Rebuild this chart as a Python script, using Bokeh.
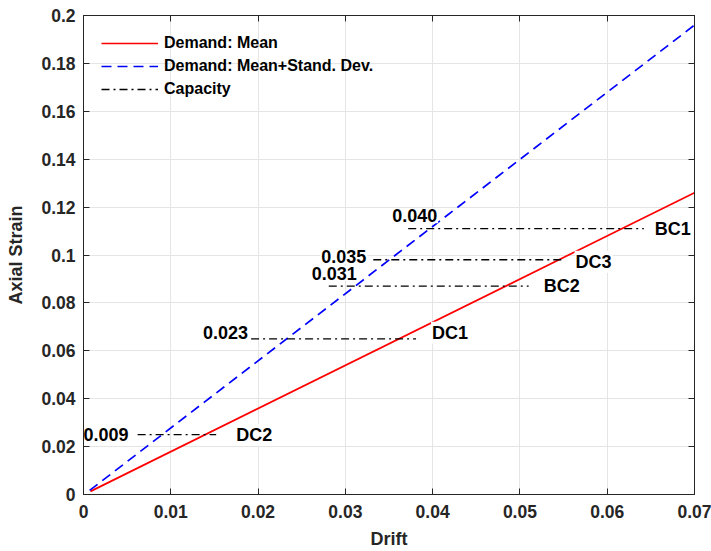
from bokeh.plotting import figure
from bokeh.models import (Range1d, FixedTicker, LinearAxis, Legend, LegendItem,
                          ColumnDataSource, CustomJSTickFormatter)
from bokeh.core.properties import value
from bokeh.embed import file_html
from bokeh.resources import INLINE

# ---- data ----
mean_x = [0.0008, 0.07]
mean_y = [0.0013, 0.126]
msd_x = [0.0007, 0.07]
msd_y = [0.0017, 0.196]

cap_names = ["DC2", "DC1", "BC2", "DC3", "BC1"]
cap_values = ["0.009", "0.023", "0.031", "0.035", "0.040"]
cap_level = [0.025, 0.065, 0.087, 0.098, 0.111]
cap_start = [0.0062, 0.0192, 0.0281, 0.0332, 0.0372]
cap_end = [0.0152, 0.0381, 0.0510, 0.0550, 0.0642]

x_ticks = [0, 0.01, 0.02, 0.03, 0.04, 0.05, 0.06, 0.07]
y_ticks = [0, 0.02, 0.04, 0.06, 0.08, 0.1, 0.12, 0.14, 0.16, 0.18, 0.2]

# label placement (pixel offsets, screen units)
val_dx = [-8, -2, 29, -6, 30]
val_dy = [0, -6, -13, -3, -13]
name_dx = [19, 15, 14, 11, 10]
name_dy = [0, -6, 0, 2, 0]

FONT = "Liberation Sans"
AX = "#262626"

p = figure(width=711, height=551, output_backend="svg", toolbar_location=None,
           x_range=Range1d(0, 0.07), y_range=Range1d(0, 0.2),
           min_border_left=83, min_border_right=17, min_border_top=15,
           min_border_bottom=56, background_fill_color="white",
           border_fill_color="white", outline_line_color=AX)

fmt = CustomJSTickFormatter(code="return String(parseFloat(tick.toFixed(3)));")
blank = CustomJSTickFormatter(code="return '';")

p.xaxis.ticker = FixedTicker(ticks=x_ticks)
p.yaxis.ticker = FixedTicker(ticks=y_ticks)
p.xgrid.ticker = FixedTicker(ticks=x_ticks)
p.ygrid.ticker = FixedTicker(ticks=y_ticks)
p.grid.grid_line_color = "#e5e5e5"
p.grid.grid_line_width = 1

for ax in (p.xaxis[0], p.yaxis[0]):
    ax.formatter = fmt
    ax.major_tick_in = 6
    ax.major_tick_out = 0
    ax.minor_tick_line_color = None
    ax.axis_line_color = AX
    ax.major_tick_line_color = AX
    ax.major_label_text_font = FONT
    ax.major_label_text_font_style = "bold"
    ax.major_label_text_font_size = "17.5px"
    ax.major_label_text_color = AX
    ax.axis_label_text_font = FONT
    ax.axis_label_text_font_style = "bold"
    ax.axis_label_text_font_size = "18px"
    ax.axis_label_text_color = AX

p.xaxis.axis_label = "Drift"
p.yaxis.axis_label = "Axial Strain"
p.xaxis.major_label_standoff = 10
p.yaxis.major_label_standoff = 8
p.xaxis.axis_label_standoff = 8
p.yaxis.axis_label_standoff = 12

for loc, tk in (("right", y_ticks), ("above", x_ticks)):
    a = LinearAxis(ticker=FixedTicker(ticks=tk), formatter=blank,
                   major_tick_in=6, major_tick_out=0,
                   minor_tick_line_color=None, axis_line_color=AX,
                   major_tick_line_color=AX, major_label_standoff=0)
    p.add_layout(a, loc)

r_mean = p.line(mean_x, mean_y, line_color="#ff0000", line_width=1.7)
r_msd = p.line(msd_x, msd_y, line_color="#0000ff", line_width=1.7, line_dash="10 6")

cap_src = ColumnDataSource(dict(
    x0=cap_start, x1=cap_end, y=cap_level, name=cap_names, val=cap_values,
    vdx=val_dx, vdy=val_dy, ndx=name_dx, ndy=name_dy))

r_cap = p.segment(x0="x0", y0="y", x1="x1", y1="y", source=cap_src,
                  line_color="black", line_width=1.4, line_dash="8 4 2 4")

p.text(x="x0", y="y", text="val", source=cap_src, x_offset="vdx", y_offset="vdy",
       text_align="right", text_baseline="middle", text_font=value(FONT),
       text_font_style="bold", text_font_size="18px", text_color="black",
       background_fill_color="white", padding=1)
p.text(x="x1", y="y", text="name", source=cap_src, x_offset="ndx", y_offset="ndy",
       text_align="left", text_baseline="middle", text_font=value(FONT),
       text_font_style="bold", text_font_size="18px", text_color="black",
       background_fill_color="white", padding=1)

legend = Legend(items=[
    LegendItem(label="Demand: Mean", renderers=[r_mean]),
    LegendItem(label="Demand: Mean+Stand. Dev.", renderers=[r_msd]),
    LegendItem(label="Capacity", renderers=[r_cap]),
], location="top_left", margin=8, padding=10, spacing=3,
   glyph_width=57, glyph_height=20, label_height=20, label_standoff=6,
   label_text_font=FONT, label_text_font_style="bold", label_text_font_size="16px",
   label_text_color="black", background_fill_alpha=0, border_line_alpha=0)
p.add_layout(legend)

open("out.html", "w").write(file_html(p, INLINE))
